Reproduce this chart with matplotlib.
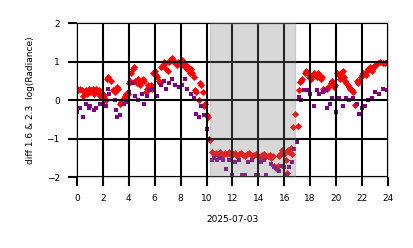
import matplotlib
matplotlib.use('Agg')
import matplotlib.pyplot as plt
import numpy as np

# красные точки (диапазон 1.6)
red_t = [0.0, 0.1, 0.2, 0.35, 0.5, 0.6, 0.7, 0.8, 0.9, 1.0, 1.1, 1.2, 1.3, 1.4, 1.5, 1.6, 1.7, 1.8, 1.9, 2.0,
         2.1, 2.2, 2.3, 2.4, 2.5, 2.6, 2.8, 2.9, 3.0, 3.1, 3.2, 3.3, 3.4, 3.6, 3.7, 3.8, 3.9, 4.0, 4.1, 4.2,
         4.3, 4.4, 4.5, 4.6, 4.7, 4.8, 4.9, 5.0, 5.1, 5.2, 5.3, 5.4, 5.5, 5.6, 5.7, 5.8, 5.9, 6.0, 6.1, 6.2,
         6.3, 6.4, 6.5, 6.6, 6.7, 6.8, 6.9, 7.0, 7.1, 7.2, 7.3, 7.4, 7.5, 7.6, 7.7, 7.8, 7.9, 8.0, 8.1, 8.2,
         8.3, 8.4, 8.5, 8.6, 8.7, 8.8, 8.9, 9.0, 9.1, 9.2, 9.4, 9.5, 9.6, 9.7, 9.8, 9.9, 10.0, 10.1, 10.2, 10.3,
         10.4, 10.55, 10.7, 10.85, 11.0, 11.15, 11.3, 11.45, 11.6, 11.75, 11.9, 12.05, 12.2, 12.35, 12.5, 12.65,
         12.8, 12.95, 13.1, 13.25, 13.4, 13.55, 13.7, 13.85, 14.0, 14.15, 14.3, 14.45, 14.6, 14.75, 14.9,
         15.0, 15.1, 15.2, 15.3, 15.4, 15.5, 15.6, 15.7, 15.8, 15.9, 16.0, 16.1, 16.2, 16.3, 16.4, 16.5, 16.6,
         16.65, 16.8, 17.03, 17.15, 17.2, 17.3, 17.4, 17.6, 17.7, 17.8, 17.9, 18.1, 18.2, 18.3, 18.4, 18.5,
         18.6, 18.7, 18.8, 18.9, 19.0, 19.1, 19.3, 19.4, 19.6, 19.7, 19.8, 19.9, 20.1, 20.2, 20.3, 20.4, 20.5,
         20.6, 20.7, 20.8, 20.9, 21.0, 21.1, 21.2, 21.3, 21.45, 21.6, 21.7, 21.8, 21.9, 22.0, 22.1, 22.3, 22.4,
         22.5, 22.6, 22.7, 22.8, 22.9, 23.0, 23.2, 23.4, 23.6, 23.8, 23.9]
red_v = [0.3, 0.25, 0.3, 0.25, 0.1, 0.2, 0.25, 0.15, 0.3, 0.2, 0.25, 0.3, 0.15, 0.25, 0.3, 0.2, 0.25, 0.1, 0.05, 0.15,
         0.1, 0.0, 0.55, 0.6, 0.55, 0.5, 0.25, 0.2, 0.3, 0.35, 0.3, -0.1, -0.05, 0.05, 0.1, 0.15, 0.15, 0.45, 0.5, 0.7,
         0.8, 0.85, 0.5, 0.45, 0.55, 0.5, 0.4, 0.5, 0.55, 0.5, 0.2, 0.3, 0.4, 0.35, 0.4, 0.3, 0.7, 0.75, 0.65, 0.6,
         0.5, 0.45, 0.85, 0.9, 1.0, 0.95, 0.8, 0.75, 1.0, 1.05, 1.1, 1.05, 1.0, 0.95, 0.9, 1.0, 0.95, 0.9, 1.05, 0.95,
         0.85, 0.9, 0.8, 0.85, 0.7, 0.8, 0.7, 0.6, 0.25, 0.2, 0.0, 0.45, 0.4, 0.2, -0.15, -0.1, -0.4, -0.45, -1.0, -1.05,
         -1.35, -1.4, -1.38, -1.42, -1.35, -1.4, -1.43, -1.38, -1.4, -1.36, -1.42, -1.4, -1.38, -1.44, -1.4, -1.37,
         -1.42, -1.45, -1.4, -1.38, -1.43, -1.46, -1.42, -1.4, -1.45, -1.48, -1.42, -1.4, -1.45, -1.44, -1.42,
         -1.5, -1.45, -1.7, -1.75, -1.8, -1.7, -1.45, -1.4, -1.3, -1.35, -1.4, -1.55, -1.9, -1.3, -1.35, -1.25, -1.4,
         -0.7, -0.37, -0.67, 0.26, 0.48, 0.5, 0.55, 0.7, 0.75, 0.7, 0.6, 0.55, 0.65, 0.7, 0.65, 0.6,
         0.7, 0.65, 0.55, 0.6, 0.3, 0.25, 0.3, 0.35, 0.45, 0.5, 0.35, 0.4, 0.7, 0.65, 0.55, 0.7, 0.75,
         0.6, 0.5, 0.45, 0.4, 0.35, 0.3, 0.25, 0.2, -0.13, 0.5, 0.45, 0.5, 0.6, 0.65, 0.7, 0.65, 0.75,
         0.8, 0.85, 0.8, 0.75, 0.85, 0.9, 0.95, 1.0, 0.95, 0.95, 1.0]

# фиолетовые точки (диапазон 2.3)
pur_t = [0.0, 0.2, 0.5, 0.7, 0.9, 1.0, 1.3, 1.5, 1.8, 2.0, 2.2, 2.4, 2.5, 2.9, 3.0, 3.1, 3.3, 3.6, 3.8, 4.0,
         4.3, 4.5, 4.7, 5.0, 5.2, 5.4, 5.6, 5.9, 6.2, 6.5, 6.7, 6.9, 7.1, 7.3, 7.6, 7.9, 8.1, 8.3, 8.5, 8.8,
         9.0, 9.2, 9.4, 9.6, 9.8, 10.0, 10.2, 10.4, 10.6, 10.8, 11.0, 11.3, 11.5, 11.7, 12.0, 12.2, 12.5, 12.7,
         13.0, 13.2, 13.5, 13.8, 14.0, 14.2, 14.4, 14.6, 15.0, 15.2, 15.4, 15.6, 15.8, 16.0, 16.2, 16.4, 16.6,
         16.77, 16.98, 17.15, 17.3, 17.5, 17.8, 18.0, 18.3, 18.5, 18.7, 19.0, 19.2, 19.3, 19.5, 19.7, 20.0,
         20.2, 20.5, 20.8, 21.0, 21.3, 21.6, 21.8, 22.0, 22.2, 22.5, 22.8, 23.0, 23.3, 23.6, 23.9]
pur_v = [-0.3, -0.2, -0.43, -0.1, -0.2, -0.15, -0.25, -0.2, -0.1, -0.1, -0.15, 0.3, 0.15, 0.0, -0.25, -0.45, -0.38,
         -0.1, -0.05, 0.2, 0.45, 0.1, 0.0, 0.15, -0.1, 0.1, 0.25, 0.3, 0.1, 0.4, 0.5, 0.3, 0.45, 0.55, 0.4, 0.35,
         0.4, 0.55, 0.3, 0.15, 0.05, -0.35, -0.45, -0.15, -0.4, -0.75, -1.0, -1.55, -1.5, -1.55, -1.5, -1.55, -1.8,
         -1.55, -1.95, -1.6, -1.55, -1.95, -1.95, -1.6, -1.55, -1.95, -1.95, -1.6, -1.55, -1.95, -1.65, -1.75, -1.8,
         -1.85, -1.7, -1.75, -1.95, -1.75, -1.6, -1.26, -1.1, 0.07, 0.0, 0.25, 0.25, 0.15, -0.15, 0.25, 0.15, 0.2,
         0.25, -0.2, -0.1, 0.05, -0.3, 0.05, -0.15, 0.05, 0.0, 0.05, -0.1, -0.35, -0.2, -0.15, 0.0, 0.05, 0.2, 0.15,
         0.3, 0.25]

fig = plt.figure(figsize=(4.14, 2.48), dpi=100)
ax = fig.add_axes([0.186, 0.286, 0.751, 0.621])

ax.scatter(red_t, red_v, marker='D', s=13, color='red', linewidths=0, zorder=2)
ax.scatter(pur_t, pur_v, marker='s', s=8, color='purple', linewidths=0, zorder=2)

# ночной интервал
ax.axvspan(10.26, 16.82, facecolor='gray', alpha=0.3, edgecolor='gray', linewidth=1, zorder=3)

ax.set_xlim(0, 24)
ax.set_ylim(-2, 2)
ax.set_xticks(np.arange(0, 25, 2))
ax.set_yticks([-2, -1, 0, 1, 2])
ax.grid(True, color='black', linewidth=1.5, zorder=4)
ax.set_axisbelow(False)
ax.tick_params(length=6.5, width=1.5, color='black', labelsize=6.5, pad=6)
for s in ax.spines.values():
    s.set_color('#cccccc')
    s.set_linewidth(1.5)

ax.set_xlabel('2025-07-03', fontsize=6.5, labelpad=8)
ax.set_ylabel('diff 1.6 & 2.3  log(Radiance)', fontsize=6.5, labelpad=8)

fig.savefig('out.png', dpi=100)
